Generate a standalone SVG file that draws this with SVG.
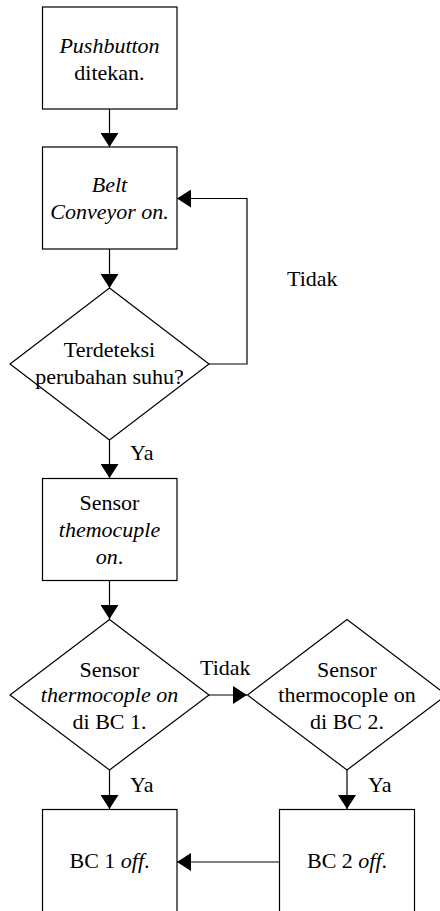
<svg xmlns="http://www.w3.org/2000/svg" width="440" height="911" viewBox="0 0 440 911">
<defs>
<style>
.s{fill:#fff;stroke:#000;stroke-width:1.2}
.t{font-family:'Liberation Serif','Times New Roman',serif;font-size:22px;fill:#000;text-anchor:middle}
.l{font-family:'Liberation Serif','Times New Roman',serif;font-size:22px;fill:#000}
.i{font-style:italic}
.c{fill:none;stroke:#000;stroke-width:1.2}
</style>
<marker id="ah" markerUnits="userSpaceOnUse" markerWidth="14" markerHeight="18" refX="14" refY="9" orient="auto">
<path d="M0,0 L14,9 L0,18 z" fill="#000"/>
</marker>
</defs>
<rect width="440" height="911" fill="#fff"/>
<g id="connectors">
<path class="c" d="M109.5,109 V147" marker-end="url(#ah)"/>
<path class="c" d="M109.5,249 V288" marker-end="url(#ah)"/>
<path class="c" d="M209,364 H247 V198.5 H177" marker-end="url(#ah)"/>
<path class="c" d="M109.5,440 V478" marker-end="url(#ah)"/>
<path class="c" d="M109.5,581 V619" marker-end="url(#ah)"/>
<path class="c" d="M209,695 H247" marker-end="url(#ah)"/>
<path class="c" d="M109.5,770 V809" marker-end="url(#ah)"/>
<path class="c" d="M347,770 V809" marker-end="url(#ah)"/>
<path class="c" d="M279,862 H177" marker-end="url(#ah)"/>
<text class="l" x="287" y="286">Tidak</text>
<text class="l" x="130" y="460">Ya</text>
<text class="l" x="200" y="675">Tidak</text>
<text class="l" x="130" y="792">Ya</text>
<text class="l" x="368" y="792">Ya</text>
</g>
<g id="n1">
<rect class="s" x="42.5" y="7" width="134.5" height="102"/>
<text class="t i" x="109.5" y="52.5">Pushbutton</text>
<text class="t" x="109.5" y="80">ditekan.</text>
</g>
<g id="n2">
<rect class="s" x="42.5" y="147" width="134.5" height="102"/>
<text class="t i" x="109.5" y="191.5">Belt</text>
<text class="t i" x="109.5" y="219">Conveyor on.</text>
</g>
<g id="n3">
<polygon class="s" points="109.5,288 209,364 109.5,440 10,364"/>
<text class="t" x="109.5" y="356.5">Terdeteksi</text>
<text class="t" x="109.5" y="383.5">perubahan suhu?</text>
</g>
<g id="n4">
<rect class="s" x="42.5" y="478.5" width="134.5" height="102"/>
<text class="t" x="109.5" y="510">Sensor</text>
<text class="t i" x="109.5" y="537">themocuple</text>
<text class="t" x="109.5" y="564"><tspan class="i">on</tspan>.</text>
</g>
<g id="n5">
<polygon class="s" points="109.5,619.5 209,695 109.5,770 10,695"/>
<text class="t" x="109.5" y="676.5">Sensor</text>
<text class="t i" x="109.5" y="702">thermocople on</text>
<text class="t" x="109.5" y="729">di BC 1.</text>
</g>
<g id="n6">
<polygon class="s" points="347,619.5 446.5,695 347,770 247.5,695"/>
<text class="t" x="347" y="676.5">Sensor</text>
<text class="t" x="347" y="702">thermocople on</text>
<text class="t" x="347" y="729">di BC 2.</text>
</g>
<g id="n7">
<rect class="s" x="42.5" y="809.5" width="134.5" height="130"/>
<text class="t" x="109.5" y="868">BC 1 <tspan class="i">off</tspan>.</text>
</g>
<g id="n8">
<rect class="s" x="279.5" y="809.5" width="135" height="130"/>
<text class="t" x="347" y="868">BC 2 <tspan class="i">off</tspan>.</text>
</g>
</svg>
